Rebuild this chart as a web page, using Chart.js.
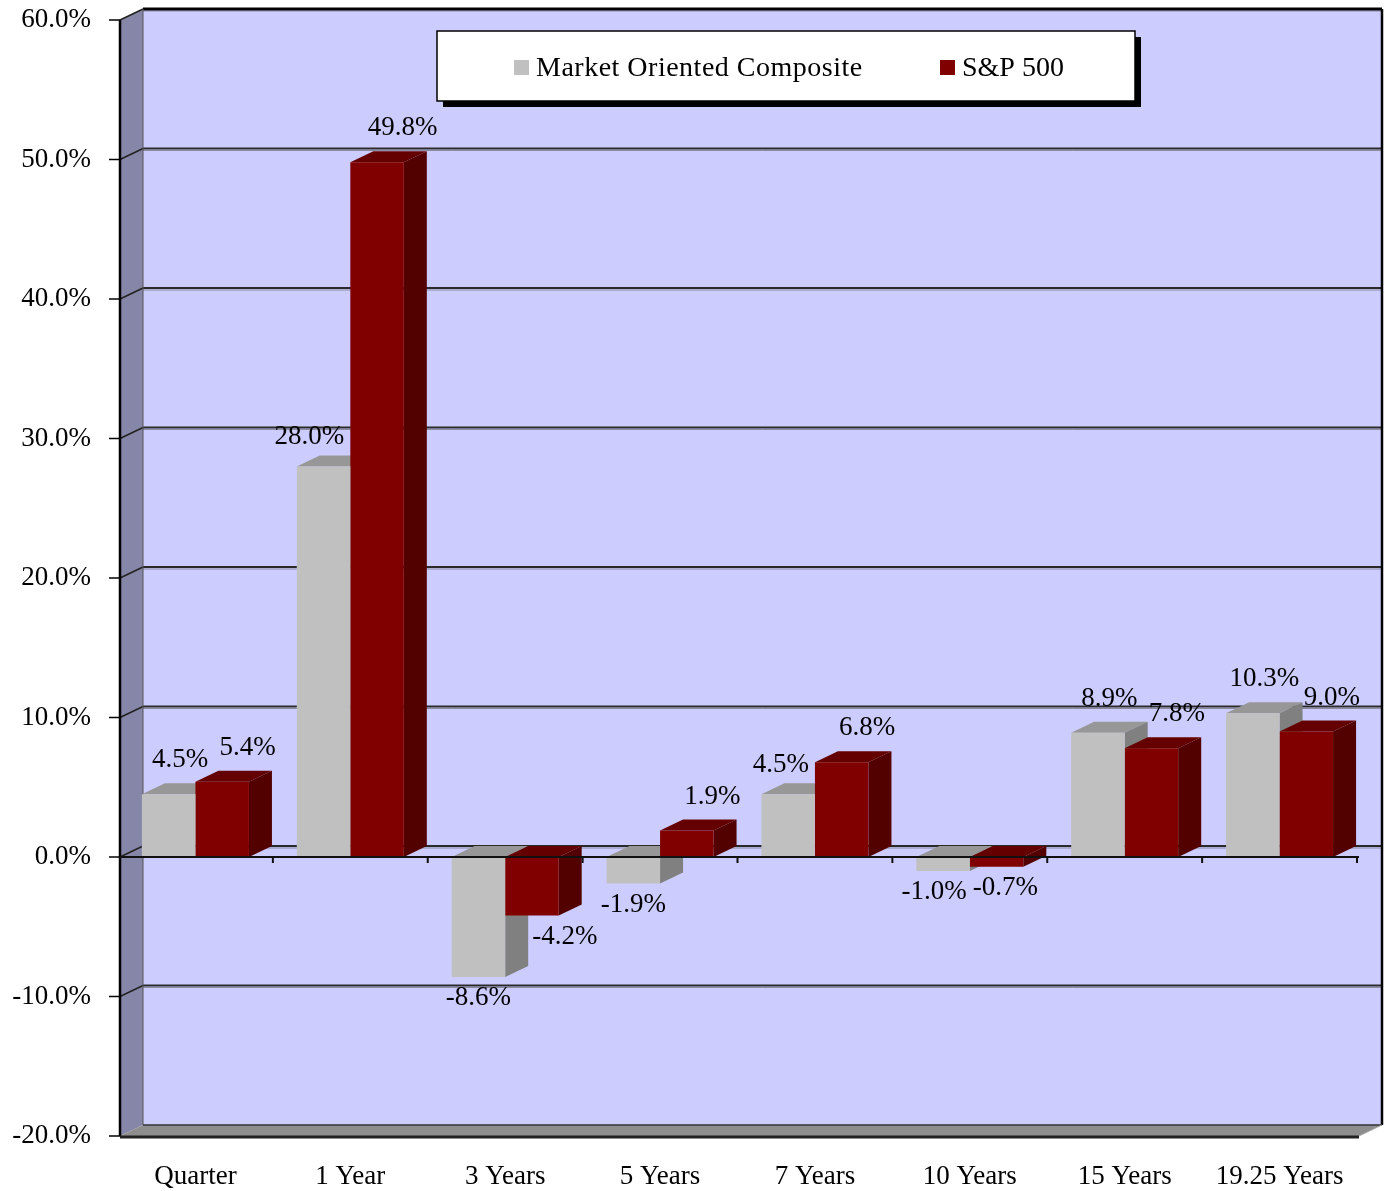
<!DOCTYPE html>
<html>
<head>
<meta charset="utf-8">
<script src="https://cdn.jsdelivr.net/npm/chart.js@4.4.1/dist/chart.umd.min.js"></script>
<style>
  html, body { margin: 0; padding: 0; background: #ffffff; }
  #wrap { width: 1387px; height: 1191px; }
</style>
</head>
<body>
<div id="wrap"><canvas id="c" width="1387" height="1191"></canvas></div>
<script>
// ---- data ----
const categories = ['Quarter', '1 Year', '3 Years', '5 Years', '7 Years', '10 Years', '15 Years', '19.25 Years'];
const marketComposite = [4.5, 28.0, -8.6, -1.9, 4.5, -1.0, 8.9, 10.3];
const sp500 = [5.4, 49.8, -4.2, 1.9, 6.8, -0.7, 7.8, 9.0];
const seriesNames = ['Market Oriented Composite', 'S&P 500'];
const yMin = -20, yMax = 60, yStep = 10;

// ---- styling ----
const FONT = '"Liberation Serif", "Times New Roman", serif';
const DX = 23, DY = -11;           // 3D depth offset
const faceColors = [
  { front: '#C0C0C0', top: '#979797', side: '#808080' },
  { front: '#800000', top: '#650000', side: '#520000' }
];
const AREA = { left: 118, top: 20, right: 1357, bottom: 1136 };

function wallX(chart) {
  const a = chart.chartArea;
  return { L: a.left + 2, R: a.right + 2 };
}

const wallsPlugin = {
  id: 'walls',
  beforeDatasetsDraw(chart) {
    const ctx = chart.ctx, ys = chart.scales.y;
    const { L, R } = wallX(chart);
    const top = ys.getPixelForValue(yMax), bot = ys.getPixelForValue(yMin);
    ctx.save();
    ctx.fillStyle = '#CCCCFF';
    ctx.fillRect(L + DX, top + DY, (R - L), bot - top);
    ctx.fillStyle = '#8686A8';
    ctx.beginPath();
    ctx.moveTo(L, top); ctx.lineTo(L + DX, top + DY); ctx.lineTo(L + DX, bot + DY); ctx.lineTo(L, bot);
    ctx.closePath(); ctx.fill();
    ctx.fillStyle = '#8E8E8E';
    ctx.beginPath();
    ctx.moveTo(L, bot); ctx.lineTo(L + DX, bot + DY); ctx.lineTo(R + DX, bot + DY); ctx.lineTo(R, bot);
    ctx.closePath(); ctx.fill();
    ys.ticks.forEach(t => {
      const y = ys.getPixelForValue(t.value);
      if (t.value === yMin) return;
      const isTop = t.value === yMax;
      ctx.strokeStyle = '#8a8aa0'; ctx.lineWidth = 1;
      ctx.beginPath(); ctx.moveTo(L + DX, y + DY + 2); ctx.lineTo(R + DX, y + DY + 2); ctx.stroke();
      ctx.strokeStyle = isTop ? '#000' : '#2a2a2a'; ctx.lineWidth = isTop ? 3 : 2;
      ctx.beginPath(); ctx.moveTo(L + DX, y + DY); ctx.lineTo(R + DX, y + DY); ctx.stroke();
      ctx.strokeStyle = '#222'; ctx.lineWidth = 1.5;
      ctx.beginPath(); ctx.moveTo(L, y); ctx.lineTo(L + DX, y + DY); ctx.stroke();
    });
    ys.ticks.forEach(t => {
      const y = ys.getPixelForValue(t.value);
      ctx.strokeStyle = '#000'; ctx.lineWidth = 1.5;
      ctx.beginPath(); ctx.moveTo(L - 11, y); ctx.lineTo(L, y); ctx.stroke();
    });
    ctx.strokeStyle = '#555'; ctx.lineWidth = 1;
    ctx.beginPath(); ctx.moveTo(L + DX, top + DY); ctx.lineTo(L + DX, bot + DY); ctx.stroke();
    ctx.strokeStyle = '#000'; ctx.lineWidth = 2.5;
    ctx.beginPath(); ctx.moveTo(L, top); ctx.lineTo(L, bot); ctx.stroke();
    ctx.beginPath(); ctx.moveTo(R + DX, top + DY); ctx.lineTo(R + DX, bot + DY); ctx.stroke();
    ctx.strokeStyle = '#333'; ctx.lineWidth = 1.5;
    ctx.beginPath(); ctx.moveTo(L + DX, bot + DY); ctx.lineTo(R + DX, bot + DY); ctx.stroke();
    ctx.strokeStyle = '#aaa'; ctx.lineWidth = 1;
    ctx.beginPath(); ctx.moveTo(R, bot); ctx.lineTo(R + DX, bot + DY); ctx.stroke();
    ctx.strokeStyle = '#222'; ctx.lineWidth = 3;
    ctx.beginPath(); ctx.moveTo(L, bot + 1); ctx.lineTo(R, bot + 1); ctx.stroke();
    ctx.restore();

    // bar tops and sides (fronts are drawn by Chart.js afterwards)
    chart.data.datasets.forEach((ds, di) => {
      const meta = chart.getDatasetMeta(di);
      const col = faceColors[di];
      meta.data.forEach(el => {
        const p = el.getProps(['x', 'y', 'base', 'width'], true);
        const left = p.x - p.width / 2, right = p.x + p.width / 2;
        const t = Math.min(p.y, p.base), b = Math.max(p.y, p.base);
        ctx.save();
        ctx.fillStyle = col.top;
        ctx.beginPath();
        ctx.moveTo(left, t); ctx.lineTo(right, t); ctx.lineTo(right + DX, t + DY); ctx.lineTo(left + DX, t + DY);
        ctx.closePath(); ctx.fill();
        ctx.fillStyle = col.side;
        ctx.beginPath();
        ctx.moveTo(right, t); ctx.lineTo(right + DX, t + DY); ctx.lineTo(right + DX, b + DY); ctx.lineTo(right, b);
        ctx.closePath(); ctx.fill();
        ctx.restore();
      });
    });
  }
};

const overlayPlugin = {
  id: 'overlay',
  afterDatasetsDraw(chart) {
    const ctx = chart.ctx, ys = chart.scales.y, a = chart.chartArea;
    const { L, R } = wallX(chart);
    const y0 = ys.getPixelForValue(0);
    ctx.save();
    ctx.strokeStyle = '#111'; ctx.lineWidth = 2;
    ctx.beginPath(); ctx.moveTo(L, y0); ctx.lineTo(R, y0); ctx.stroke();
    const n = categories.length, cw = a.width / n;
    for (let i = 1; i <= n; i++) {
      const x = a.left + i * cw;
      ctx.beginPath(); ctx.moveTo(x, y0); ctx.lineTo(x, y0 + 6); ctx.stroke();
    }

    // data labels
    ctx.font = '27px ' + FONT;
    ctx.fillStyle = '#000';
    ctx.textAlign = 'center';
    ctx.textBaseline = 'middle';
    const H = 20;
    const m0 = chart.getDatasetMeta(0), m1 = chart.getDatasetMeta(1);
    for (let i = 0; i < n; i++) {
      const els = [m0.data[i], m1.data[i]].map(el => el.getProps(['x', 'y', 'base', 'width'], true));
      const vals = [chart.data.datasets[0].data[i], chart.data.datasets[1].data[i]];
      const labs = vals.map((v, di) => {
        const p = els[di];
        const txt = v.toFixed(1) + '%';
        const w = ctx.measureText(txt).width;
        const left = p.x - p.width / 2, right = p.x + p.width / 2;
        let cx, cy;
        if (v >= 0) {
          cx = p.x + DX / 2 + (di === 1 ? 14 : 0);
          cy = p.y + DY - 23;
        } else {
          cx = p.x;
          cy = p.y + 21;
        }
        return { txt, w, cx, cy, v, left, right, top: Math.min(p.y, p.base), bot: Math.max(p.y, p.base) };
      });
      const g = labs[0], r = labs[1];
      const boxOverlap = (l, x1, x2, y1, y2) =>
        (l.cx - l.w / 2) < x2 && (l.cx + l.w / 2) > x1 && (l.cy - H / 2) < y2 && (l.cy + H / 2) > y1;
      if (g.v >= 0 && boxOverlap(g, r.left, r.right + DX, r.top + DY, r.bot)) {
        g.cx = r.left - 6 - g.w / 2;
        g.cy += 5;
      }
      if (r.v < 0 && boxOverlap(r, g.left, g.right + DX, g.top, g.bot)) {
        r.cx = g.right + DX + 4 + r.w / 2;
      }
      if (boxOverlap(g, r.cx - r.w / 2, r.cx + r.w / 2, r.cy - H / 2, r.cy + H / 2)) {
        const need = (g.w + r.w) / 2 + 6 - (r.cx - g.cx);
        if (need > 0) { g.cx -= need / 2; r.cx += need / 2; }
      }
      labs.forEach(l => ctx.fillText(l.txt, l.cx, l.cy));
    }
    ctx.restore();
  }
};

const legendPlugin = {
  id: 'legendBox',
  afterDraw(chart) {
    const ctx = chart.ctx;
    const bx = 437, by = 31, bw = 698, bh = 70;
    ctx.save();
    ctx.fillStyle = '#000';
    ctx.fillRect(bx + 6, by + 6, bw, bh);
    ctx.fillStyle = '#fff';
    ctx.fillRect(bx, by, bw, bh);
    ctx.strokeStyle = '#000'; ctx.lineWidth = 1.5;
    ctx.strokeRect(bx, by, bw, bh);
    ctx.font = '28px ' + FONT;
    ctx.textBaseline = 'middle';
    ctx.textAlign = 'left';
    const items = [{ x: 514, sp: '0.5px' }, { x: 940, sp: '0px' }];
    chart.data.datasets.forEach((ds, i) => {
      const ix = items[i].x, cy = by + bh / 2 + 3;
      ctx.fillStyle = ds.backgroundColor;
      ctx.fillRect(ix, cy - 9, 15, 15);
      ctx.fillStyle = '#000';
      ctx.letterSpacing = items[i].sp;
      ctx.fillText(ds.label, ix + 22, cy);
    });
    ctx.letterSpacing = '0px';
    ctx.restore();
  }
};

Chart.defaults.font.family = FONT;
const chart = new Chart(document.getElementById('c').getContext('2d'), {
  type: 'bar',
  data: {
    labels: categories,
    datasets: [
      { label: seriesNames[0], data: marketComposite, backgroundColor: faceColors[0].front, borderWidth: 0 },
      { label: seriesNames[1], data: sp500, backgroundColor: faceColors[1].front, borderWidth: 0 }
    ]
  },
  options: {
    responsive: false,
    animation: false,
    devicePixelRatio: 1,
    categoryPercentage: 0.691,
    barPercentage: 1.0,
    layout: { padding: { left: 0, right: 1387 - AREA.right, top: AREA.top, bottom: 0 } },
    scales: {
      x: {
        grid: { display: false },
        border: { display: false },
        ticks: { color: '#000', font: { size: 27, family: FONT }, padding: 17, maxRotation: 0, autoSkip: false },
        afterFit: s => { s.height = 1191 - AREA.bottom; s.paddingLeft = 0; s.paddingRight = 0; }
      },
      y: {
        min: yMin, max: yMax,
        grid: { display: false },
        border: { display: false },
        ticks: { stepSize: yStep, color: '#000', font: { size: 27, family: FONT }, padding: 19,
                 callback: v => Number(v).toFixed(1) + '%' },
        afterFit: s => { s.width = AREA.left; s.paddingTop = 0; s.paddingBottom = 0; }
      }
    },
    plugins: { legend: { display: false }, tooltip: { enabled: false } }
  },
  plugins: [wallsPlugin, overlayPlugin, legendPlugin]
});

// safety: nudge layout padding if the plot area still misses the target box
for (let k = 0; k < 3; k++) {
  const a = chart.chartArea, p = chart.config.options.layout.padding;
  const dt = AREA.top - a.top, db = a.bottom - AREA.bottom, dl = AREA.left - a.left, dr = a.right - AREA.right;
  if (Math.abs(dt) + Math.abs(db) + Math.abs(dl) + Math.abs(dr) < 0.5) break;
  p.top += dt; p.bottom += db; p.left += dl; p.right += dr;
  chart.update();
}
</script>
</body>
</html>
